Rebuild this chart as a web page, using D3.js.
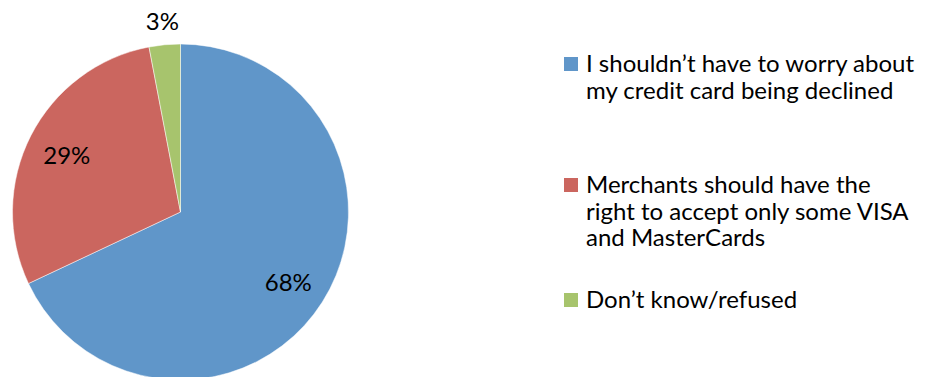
<!DOCTYPE html>
<html lang="en">
<head>
<meta charset="UTF-8">
<title>pie</title>
<style>
  body { margin: 0; overflow: hidden; background: #fff; }
  text { font-family: Lato, "Open Sans", sans-serif; }
</style>
</head>
<body>
<script src="https://cdnjs.cloudflare.com/ajax/libs/d3/7.8.2/d3.min.js"></script>
<script>
const categories = [
  ["I shouldn\u2019t have to worry about", "my credit card being declined"],
  ["Merchants should have the", "right to accept only some VISA", "and MasterCards"],
  ["Don\u2019t know/refused"]
];
const values = [68, 29, 3];
const colors = ["#6096c9", "#cb665f", "#a7c46d"];

const W = 932, H = 377;
const cx = 180.5, cy = 212, r = 168;
const fs = 24;

const svg = d3.select("body").append("svg")
  .attr("width", W).attr("height", H);

const pie = d3.pie().sort(null).value(d => d);
const arcs = pie(values);
const arc = d3.arc().innerRadius(0).outerRadius(r);

const g = svg.append("g").attr("transform", `translate(${cx},${cy})`);

g.selectAll("path")
  .data(arcs)
  .join("path")
  .attr("d", arc)
  .attr("fill", (d, i) => colors[i])
  .attr("stroke", "#fff")
  .attr("stroke-width", 0.5);

// labels: big slices inside, tiny ones outside
g.selectAll("text.lbl")
  .data(arcs)
  .join("text")
  .attr("class", "lbl")
  .attr("transform", d => {
    const rr = d.data < 5 ? r + 25 : r * 0.76;
    const a = (d.startAngle + d.endAngle) / 2;
    return `translate(${rr * Math.sin(a)},${-rr * Math.cos(a) + 2})`;
  })
  .attr("text-anchor", "middle")
  .attr("dy", "0.35em")
  .attr("font-size", fs)
  .attr("fill", "#000")
  .text(d => d.data + "%");

// legend
const legendTop = [64, 185, 300];
const leg = svg.append("g").attr("transform", "translate(564,0)");
const items = leg.selectAll("g")
  .data(categories)
  .join("g")
  .attr("transform", (d, i) => `translate(0,${legendTop[i]})`);

items.append("rect")
  .attr("x", 0).attr("y", -7)
  .attr("width", 14).attr("height", 14)
  .attr("fill", (d, i) => colors[i]);

items.each(function(lines) {
  const t = d3.select(this).append("text")
    .attr("x", 22).attr("y", 0)
    .attr("font-size", fs)
    .attr("fill", "#000");
  lines.forEach((ln, j) => {
    t.append("tspan")
      .attr("x", 22)
      .attr("y", j * 26.5)
      .attr("dy", "0.35em")
      .text(ln);
  });
});
</script>
</body>
</html>
